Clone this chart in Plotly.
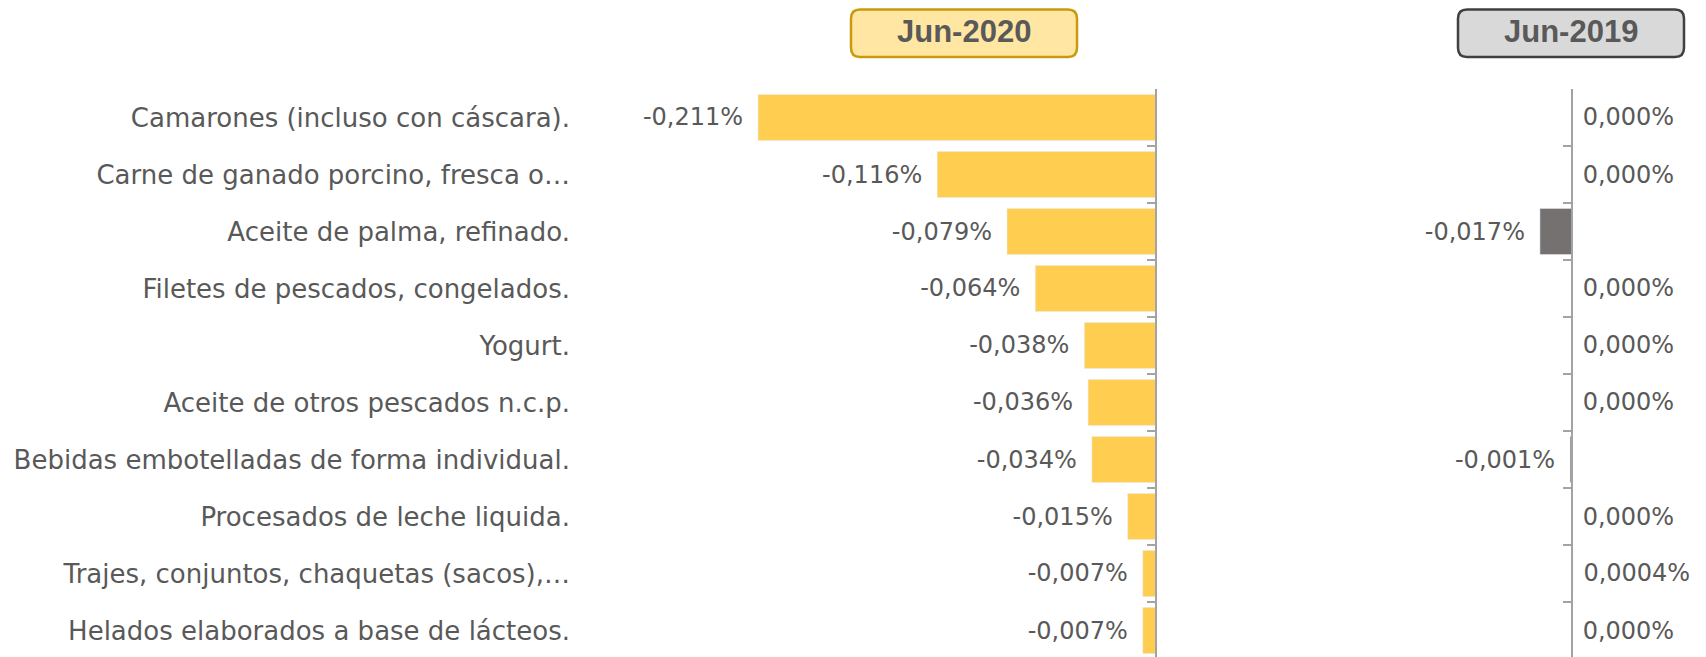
import plotly.graph_objects as go

# Datos (variación %)
categorias = [
    "Camarones (incluso con cáscara).",
    "Carne de ganado porcino, fresca o…",
    "Aceite de palma, refinado.",
    "Filetes de pescados, congelados.",
    "Yogurt.",
    "Aceite de otros pescados n.c.p.",
    "Bebidas embotelladas de forma individual.",
    "Procesados de leche liquida.",
    "Trajes, conjuntos, chaquetas (sacos),…",
    "Helados elaborados a base de lácteos.",
]
jun_2020 = [-0.211, -0.116, -0.079, -0.064, -0.038, -0.036, -0.034, -0.015, -0.007, -0.007]
jun_2019 = [0.000, 0.000, -0.017, 0.000, 0.000, 0.000, -0.001, 0.000, 0.0004, 0.000]

# la pagina deja 8px de margen en el body, la figura se ajusta a eso
W, H = 1698, 649
FUENTE = "DejaVu Sans"
GRIS_TXT = "#595959"
GRIS_EJE = "#A3A3A3"


def fmt(v):
    dec = 4 if (v != 0 and abs(v) < 0.001) else 3
    s = f"{v:.{dec}f}".replace(".", ",") + "%"
    # separacion entre la barra y la etiqueta
    return s + "\u2002" if v < 0 else "\u00a0" + s


def px_x(x):
    return x / W


def px_y(y):
    return 1 - y / H


# coordenadas en pixeles de la figura
cero_izq, cero_der = 1148, 1564
escala = 1886  # px por 1 punto porcentual
izq_ini, der_ini = 563, 1200
fila = 57
tope = 81

fig = go.Figure()
fig.add_trace(go.Bar(
    y=categorias, x=jun_2020, orientation="h",
    marker=dict(color="#FFCD50"),
    text=[fmt(v) for v in jun_2020], textposition="outside",
    textfont=dict(family=FUENTE, size=24, color=GRIS_TXT),
    cliponaxis=False, xaxis="x", yaxis="y", showlegend=False,
))
fig.add_trace(go.Bar(
    y=categorias, x=jun_2019, orientation="h",
    marker=dict(color="#767171"),
    text=[fmt(v) for v in jun_2019], textposition="outside",
    textfont=dict(family=FUENTE, size=24, color=GRIS_TXT),
    cliponaxis=False, xaxis="x2", yaxis="y2", showlegend=False,
))
# trazas vacias para que se dibujen los ejes en el cero
for xa, ya in [("x", "y3"), ("x2", "y4")]:
    fig.add_trace(go.Scatter(x=[None], y=[None], xaxis=xa, yaxis=ya,
                             hoverinfo="skip", showlegend=False))

dom_y = [0, (H - tope) / H]
rango_y = [-0.5 + (H - tope) / fila, -0.5]
bordes = [i - 0.5 for i in range(len(categorias) + 1)]

eje_cero = dict(
    type="linear", range=rango_y, side="right", anchor="free",
    tickvals=bordes, ticks="inside", ticklen=8, tickwidth=1.5, tickcolor=GRIS_EJE,
    showticklabels=False, showline=True, linecolor=GRIS_EJE, linewidth=1.5,
    showgrid=False, zeroline=False,
)

fig.update_layout(
    width=W, height=H,
    margin=dict(l=0, r=0, t=0, b=0),
    paper_bgcolor="white", plot_bgcolor="rgba(0,0,0,0)",
    bargap=0.19,
    xaxis=dict(domain=[px_x(izq_ini), px_x(cero_izq)],
               range=[-(cero_izq - izq_ini) / escala, 0], visible=False),
    xaxis2=dict(domain=[px_x(der_ini), 1],
                range=[-(cero_der - der_ini) / escala, (W - cero_der) / escala], visible=False),
    yaxis=dict(domain=dom_y, type="category", range=rango_y, anchor="x",
               showgrid=False, zeroline=False, ticks="",
               tickfont=dict(family=FUENTE, size=26, color=GRIS_TXT)),
    yaxis2=dict(domain=dom_y, type="category", range=rango_y, anchor="x2",
                showgrid=False, zeroline=False, showticklabels=False),
    yaxis3=dict(eje_cero, overlaying="y", position=px_x(cero_izq)),
    yaxis4=dict(eje_cero, overlaying="y2", position=px_x(cero_der)),
)


def caja(x0, y0, x1, y1, r):
    # rectangulo redondeado en coordenadas de papel
    pts = [
        f"M {px_x(x0 + r)} {px_y(y0)}",
        f"L {px_x(x1 - r)} {px_y(y0)}",
        f"Q {px_x(x1)} {px_y(y0)} {px_x(x1)} {px_y(y0 + r)}",
        f"L {px_x(x1)} {px_y(y1 - r)}",
        f"Q {px_x(x1)} {px_y(y1)} {px_x(x1 - r)} {px_y(y1)}",
        f"L {px_x(x0 + r)} {px_y(y1)}",
        f"Q {px_x(x0)} {px_y(y1)} {px_x(x0)} {px_y(y1 - r)}",
        f"L {px_x(x0)} {px_y(y0 + r)}",
        f"Q {px_x(x0)} {px_y(y0)} {px_x(x0 + r)} {px_y(y0)} Z",
    ]
    return " ".join(pts)


encabezados = [
    ("Jun-2020", 843, 1069, "#FFE6A3", "#C99A0E"),
    ("Jun-2019", 1450, 1676, "#D9D9D9", "#404040"),
]
for texto, x0, x1, relleno, borde in encabezados:
    fig.add_shape(type="path", xref="paper", yref="paper",
                  path=caja(x0, 1.5, x1, 49, 9),
                  fillcolor=relleno, line=dict(color=borde, width=2.5))
    fig.add_annotation(x=px_x((x0 + x1) / 2), y=px_y(24), xref="paper", yref="paper",
                       xanchor="center", yanchor="middle",
                       text=f"<b>{texto}</b>", showarrow=False,
                       font=dict(family="Liberation Sans", size=31, color=GRIS_TXT))

fig.write_html("out.html")
